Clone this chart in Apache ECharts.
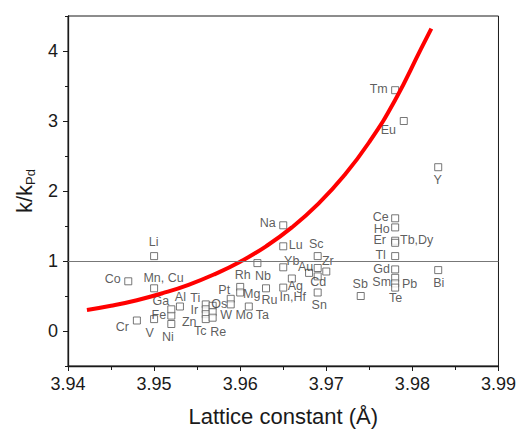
<!DOCTYPE html>
<html>
<head>
<meta charset="utf-8">
<script src="https://cdn.jsdelivr.net/npm/echarts@6/dist/echarts.min.js"></script>
<style>
  html, body { margin: 0; padding: 0; background: #fff; }
  #chart { width: 519px; height: 432px; }
</style>
</head>
<body>
<div id="chart"></div>
<script>
// element names ('' = unlabeled square)
var elements = ['Li', 'Co', 'Mn, Cu', 'Cr', 'V', 'Ni', 'Fe', 'Ga', 'Al',
  'Ti', 'Ir', 'Zn', 'Tc', 'Os', 'W', 'Re', 'Pt', 'Mo', 'Rh', 'Mg', 'Ta',
  'Nb', 'Ru', 'Na', 'Lu', 'Yb', 'Ag', 'In,Hf', 'Sc', 'Au', '', 'Zr', 'Cd', 'Sn',
  'Sb', 'Ce', 'Ho', 'Er', 'Tb,Dy', 'Tl', 'Gd', 'Sm', 'Pb', 'Te', 'Bi',
  'Tm', 'Eu', 'Y'];
// lattice constant (Å)
var lattice = [3.950, 3.947, 3.950, 3.948, 3.950, 3.952, 3.952, 3.952, 3.953,
  3.956, 3.956, 3.956, 3.956, 3.9568, 3.9568, 3.9568, 3.9589, 3.9589, 3.960, 3.960, 3.961,
  3.962, 3.963, 3.965, 3.965, 3.965, 3.966, 3.965, 3.969, 3.968, 3.969, 3.970, 3.969, 3.969,
  3.974, 3.978, 3.978, 3.978, 3.978, 3.978, 3.978, 3.978, 3.978, 3.978, 3.983,
  3.978, 3.979, 3.983];
// k / k_Pd
var ratio = [1.07, 0.71, 0.61, 0.15, 0.17, 0.10, 0.22, 0.31, 0.35,
  0.38, 0.31, 0.24, 0.17, 0.36, 0.27, 0.19, 0.46, 0.38, 0.63, 0.55, 0.35,
  0.97, 0.61, 1.51, 1.21, 0.91, 0.75, 0.62, 1.07, 0.83, 0.90, 0.85, 0.78, 0.55,
  0.50, 1.61, 1.48, 1.29, 1.26, 1.07, 0.88, 0.76, 0.68, 0.62, 0.87,
  3.44, 3.00, 2.34];

// red fitted curve
var fitX = [3.9422, 3.945, 3.948, 3.951, 3.954, 3.957, 3.960, 3.963, 3.966, 3.969, 3.972, 3.975, 3.978, 3.981, 3.9822];
var fitY = [0.30, 0.36, 0.44, 0.54, 0.66, 0.81, 0.99, 1.21, 1.48, 1.81, 2.21, 2.70, 3.30, 4.03, 4.32];

var refLevel = 1;
var yTicks = [0, 1, 2, 3, 4];

// label offset from its square, in px [dx, dy]
var labelOffset = {
  'Li': [0, -14], 'Co': [-15, -2], 'Mn, Cu': [10, -10], 'Cr': [-14, 7],
  'V': [-4, 14], 'Ni': [-3, 13], 'Fe': [-12, 0], 'Ga': [-10, -8], 'Al': [1, -9],
  'Ti': [-10, -6], 'Ir': [-11, 1], 'Zn': [-16, 8], 'Tc': [-5, 12],
  'Os': [7, -1], 'W': [14, 3], 'Re': [6, 15], 'Pt': [-6, -8], 'Mo': [14, 11],
  'Rh': [3, -11], 'Mg': [12, 2], 'Ta': [14, 9], 'Nb': [6, 13], 'Ru': [4, 12],
  'Na': [-15, -2], 'Lu': [13, -1], 'Yb': [9, -6], 'Ag': [4, 8], 'In,Hf': [10, 10],
  'Sc': [-1, -12], 'Au': [-3, -5], 'Zr': [2, -10], 'Cd': [1, 6], 'Sn': [2, 13],
  'Sb': [0, -12], 'Ce': [-14, -1], 'Ho': [-13, 2], 'Er': [-15, 0], 'Tb,Dy': [22, -2],
  'Tl': [-14, -1], 'Gd': [-13, 0], 'Sm': [-13, 5], 'Pb': [15, 1], 'Te': [1, 11],
  'Bi': [1, 13], 'Tm': [-16, -1], 'Eu': [-15, 9], 'Y': [0, 13]
};

var symSize = 7;
var points = elements.map(function (name, i) {
  var off = labelOffset[name] || [0, 0];
  return {
    name: name,
    value: [lattice[i], ratio[i]],
    label: {
      show: name !== '',
      position: [off[0] + symSize / 2, off[1] + symSize / 2],
      align: 'center', verticalAlign: 'middle'
    }
  };
});
var fitData = fitX.map(function (x, i) { return [x, fitY[i]]; });

var font = 'Liberation Sans, Arial, sans-serif';
var ink = '#1a1a1a';
var chart = echarts.init(document.getElementById('chart'), null, { renderer: 'svg' });
chart.setOption({
  animation: false,
  backgroundColor: '#fff',
  grid: { left: 68, right: 18, top: 16, bottom: 64, show: true, borderColor: ink, borderWidth: 1 },
  xAxis: {
    type: 'value',
    min: 3.94, max: 3.99, interval: 0.01,
    name: 'Lattice constant (Å)',
    nameLocation: 'middle', nameGap: 39,
    nameTextStyle: { color: ink, fontSize: 22, fontFamily: font },
    axisLine: { onZero: false, lineStyle: { color: ink, width: 1.3 } },
    axisTick: { length: 5, lineStyle: { color: ink } },
    minorTick: { show: true, splitNumber: 2, length: 4, lineStyle: { color: ink } },
    axisLabel: { color: ink, fontSize: 18, fontFamily: font, margin: 9,
      formatter: function (v) { return v.toFixed(2); } },
    splitLine: { show: false }
  },
  yAxis: [{
    type: 'value',
    min: -0.5, max: 4.5,
    name: 'k/k{sub|Pd}',
    nameLocation: 'middle', nameGap: 25,
    nameTextStyle: { color: ink, fontSize: 22, fontFamily: font,
      rich: { sub: { fontSize: 13, fontFamily: font, color: ink, padding: [12, 0, 0, 0] } } },
    axisLine: { onZero: false, lineStyle: { color: ink, width: 1.3 } },
    axisTick: { length: 5, customValues: yTicks, lineStyle: { color: ink } },
    axisLabel: { color: ink, fontSize: 18, fontFamily: font, margin: 10, customValues: yTicks },
    splitLine: { show: false }
  }, {
    // half-step minor ticks
    type: 'value', position: 'left',
    min: -0.5, max: 4.5, interval: 1,
    axisLine: { show: false, onZero: false },
    axisTick: { length: 3, lineStyle: { color: ink } },
    axisLabel: { show: false },
    splitLine: { show: false }
  }],
  series: [
    {
      type: 'line',
      data: fitData,
      smooth: true,
      showSymbol: false,
      lineStyle: { color: '#ff0000', width: 4 },
      markLine: {
        silent: true, symbol: 'none', label: { show: false },
        lineStyle: { color: '#777', width: 1, type: 'solid' },
        data: [{ yAxis: refLevel }]
      },
      z: 3
    },
    {
      type: 'scatter',
      data: points,
      symbol: 'rect',
      symbolSize: symSize,
      itemStyle: { color: '#fff', borderColor: '#555', borderWidth: 1 },
      label: {
        formatter: '{b}',
        color: '#333', fontSize: 12.5, lineHeight: 11, fontFamily: font
      },
      labelLayout: { hideOverlap: false },
      z: 2
    }
  ]
});
</script>
</body>
</html>
